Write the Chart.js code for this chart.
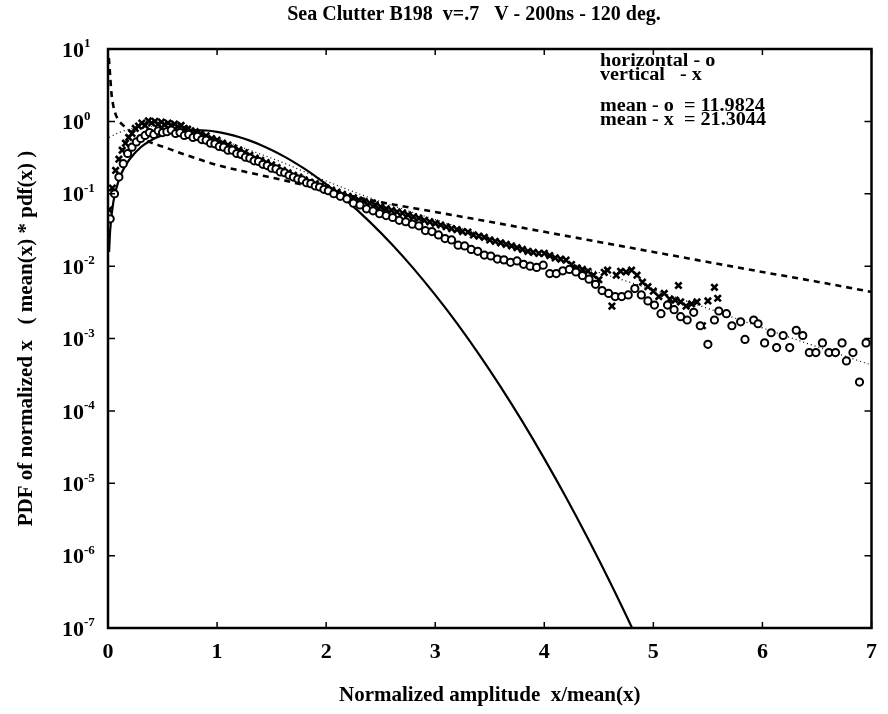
<!DOCTYPE html>
<html>
<head>
<meta charset="utf-8">
<script src="https://cdn.jsdelivr.net/npm/chart.js@4.4.1/dist/chart.umd.min.js"></script>
<style>
  html, body { margin: 0; padding: 0; background: #fff; }
  #wrap { width: 888px; height: 714px; position: relative; }
</style>
</head>
<body>
<div id="wrap"><canvas id="chart"></canvas></div>
<script>
// horizontal polarisation, "o" markers
const hX = [
  0.02,0.06,0.10,0.14,0.18,0.22,0.26,0.30,0.34,0.38,
  0.42,0.46,0.50,0.54,0.58,0.62,0.66,0.70,0.74,0.78,
  0.82,0.86,0.90,0.94,0.98,1.02,1.06,1.10,1.14,1.18,
  1.22,1.26,1.30,1.34,1.38,1.42,1.46,1.50,1.54,1.58,
  1.62,1.66,1.70,1.74,1.78,1.82,1.86,1.90,1.94,1.98,
  2.02,2.07,2.13,2.19,2.25,2.31,2.37,2.43,2.49,2.55,
  2.61,2.67,2.73,2.79,2.85,2.91,2.97,3.03,3.09,3.15,
  3.21,3.27,3.33,3.39,3.45,3.51,3.57,3.63,3.69,3.75,
  3.81,3.87,3.93,3.99,4.05,4.11,4.17,4.23,4.29,4.35,
  4.41,4.47,4.53,4.59,4.65,4.71,4.77,4.83,4.89,4.95,
  5.01,5.07,5.13,5.19,5.25,5.31,5.37,5.43,5.50,5.56,
  5.60,5.67,5.72,5.80,5.84,5.92,5.96,6.02,6.08,6.13,
  6.19,6.25,6.31,6.37,6.43,6.49,6.55,6.61,6.67,6.73,
  6.77,6.83,6.89,6.95
];
const hY = [
  0.045,0.10,0.17,0.26,0.36,0.44,0.52,0.58,0.64,0.70,
  0.66,0.74,0.70,0.72,0.76,0.68,0.70,0.64,0.66,0.60,
  0.62,0.56,0.55,0.50,0.49,0.45,0.44,0.40,0.40,0.36,
  0.35,0.32,0.31,0.285,0.28,0.255,0.245,0.225,0.22,0.20,
  0.195,0.18,0.17,0.16,0.155,0.142,0.138,0.128,0.124,0.115,
  0.110,0.100,0.092,0.085,0.074,0.070,0.062,0.058,0.053,0.050,
  0.047,0.043,0.041,0.038,0.036,0.031,0.030,0.027,0.024,0.023,
  0.0195,0.019,0.017,0.016,0.0142,0.0138,0.0125,0.0122,0.0113,0.0118,
  0.0106,0.0100,0.0096,0.0103,0.0079,0.0079,0.0086,0.0090,0.0083,0.0074,
  0.0066,0.0056,0.0046,0.0042,0.0038,0.0038,0.0040,0.0049,0.0040,0.0033,
  0.0029,0.0022,0.0029,0.0025,0.0020,0.0018,0.0023,0.0015,0.00083,0.0018,
  0.0024,0.0022,0.0015,0.0017,0.00097,0.0018,0.0016,0.00087,0.0012,0.00075,
  0.0011,0.00075,0.0013,0.0011,0.00064,0.00064,0.00087,0.00064,0.00064,0.00087,
  0.00049,0.00064,0.00025,0.00087
];

// vertical polarisation, "x" markers
const vX = [
  0.01,0.04,0.07,0.10,0.13,0.16,0.19,0.22,0.25,0.28,
  0.31,0.34,0.37,0.40,0.43,0.46,0.49,0.52,0.55,0.58,
  0.61,0.64,0.67,0.70,0.73,0.76,0.80,0.85,0.90,0.95,
  1.00,1.05,1.10,1.15,1.20,1.25,1.30,1.35,1.40,1.45,
  1.50,1.55,1.60,1.65,1.70,1.75,1.80,1.85,1.90,1.95,
  2.00,2.05,2.10,2.15,2.20,2.25,2.30,2.35,2.40,2.45,
  2.50,2.55,2.60,2.65,2.70,2.75,2.80,2.85,2.90,2.95,
  3.00,3.05,3.10,3.15,3.20,3.25,3.30,3.35,3.40,3.45,
  3.50,3.55,3.60,3.65,3.70,3.75,3.80,3.85,3.90,3.95,
  4.00,4.05,4.10,4.15,4.20,4.25,4.30,4.35,4.40,4.45,
  4.50,4.55,4.58,4.62,4.66,4.70,4.75,4.80,4.85,4.90,
  4.95,5.00,5.05,5.10,5.15,5.20,5.23,5.25,5.30,5.35,
  5.40,5.45,5.50,5.56,5.59
];
const vY = [
  0.06,0.12,0.21,0.30,0.40,0.50,0.60,0.68,0.80,0.86,
  0.95,0.88,1.02,0.95,1.00,0.92,0.98,0.90,0.95,0.88,
  0.92,0.85,0.88,0.80,0.78,0.74,0.72,0.68,0.63,0.58,
  0.55,0.50,0.47,0.43,0.40,0.37,0.34,0.31,0.29,0.27,
  0.25,0.23,0.21,0.195,0.18,0.17,0.155,0.145,0.138,0.128,
  0.12,0.112,0.105,0.098,0.092,0.088,0.082,0.078,0.074,0.070,
  0.066,0.062,0.059,0.056,0.054,0.051,0.048,0.046,0.043,0.041,
  0.039,0.037,0.035,0.033,0.032,0.030,0.0295,0.027,0.026,0.025,
  0.023,0.022,0.021,0.020,0.019,0.018,0.017,0.016,0.0155,0.015,
  0.015,0.014,0.013,0.0125,0.0121,0.0105,0.0095,0.009,0.0085,0.0075,
  0.0065,0.0082,0.0088,0.0028,0.0075,0.0085,0.0083,0.0088,0.0075,0.006,
  0.0052,0.0045,0.0038,0.0042,0.0035,0.0034,0.0054,0.0032,0.0028,0.003,
  0.0032,0.0015,0.0033,0.0051,0.0036
];

// solid curve
const sX = [0.01,0.02,0.05,0.1,0.15,0.2,0.3,0.4,0.5,0.6,0.7,0.8,0.9,1.0,1.1,1.2,1.3,1.4,1.5,1.6,
  1.7,1.8,1.9,2.0,2.2,2.4,2.6,2.8,3.0,3.2,3.4,3.6,3.8,4.0,4.2,4.4,4.6,4.8,4.85];
const sY = [0.0157,0.0314,0.0784,0.156,0.231,0.302,0.439,0.554,0.645,0.710,0.748,0.760,0.748,0.716,0.668,0.608,0.542,0.472,0.402,0.336,
  0.276,0.222,0.175,0.136,0.0772,0.0409,0.0202,0.0093,0.0040,0.00162,0.00061,0.000215,0.000071,0.0000219,0.00000635,0.00000172,0.000000438,0.000000104,0.000000072];

// dashed curve
const kX = [0.008,0.02,0.03,0.05,0.07,0.1,0.14,0.18,0.25,0.32,0.38,0.5,0.7,1.0,1.3,1.6,2.0,2.4,3.0,3.5,4.0,4.5,5.0,5.5,6.0,6.5,7.0];
const kY = [7.5,4.2,2.6,1.6,1.25,1.02,0.88,0.78,0.66,0.58,0.52,0.45,0.35,0.25,0.195,0.155,0.112,0.082,0.056,0.041,0.0298,0.0216,0.0157,0.0114,0.0083,0.0061,0.0044];

// dotted curve
const fX = [0.01,0.1,0.23,0.4,0.55,0.7,0.85,1.0,1.3,1.6,2.0,2.4,2.8,3.2,3.6,4.0,4.5,5.0,5.5,6.0,6.5,7.0];
const fY = [0.6,0.7,0.8,0.85,0.84,0.78,0.68,0.58,0.40,0.27,0.15,0.088,0.055,0.035,0.022,0.014,0.0082,0.0047,0.0026,0.0014,0.00077,0.00043];

const xTicks = [0, 1, 2, 3, 4, 5, 6, 7];
const yExps = [1, 0, -1, -2, -3, -4, -5, -6, -7];

const titleText = 'Sea Clutter B198  v=.7   V - 200ns - 120 deg.';
const noteLines = ['horizontal - o', 'vertical   - x', 'mean - o  = 11.9824', 'mean - x  = 21.3044'];
const noteBase = [66, 80, 111, 125];

const pts = (xs, ys) => xs.map((x, i) => ({x: x, y: ys[i]}));
const serif = '"Liberation Serif", "DejaVu Serif", serif';

const frame = {
  id: 'frame',
  afterDraw(chart) {
    const {ctx, chartArea: a, scales: {x, y}} = chart;
    ctx.save();
    ctx.strokeStyle = '#000';
    ctx.fillStyle = '#000';
    ctx.lineWidth = 2.5;
    ctx.strokeRect(a.left, a.top, a.right - a.left, a.bottom - a.top);

    // inward ticks
    ctx.lineWidth = 1.5;
    ctx.beginPath();
    for (const e of yExps) {
      const py = y.getPixelForValue(Math.pow(10, e));
      ctx.moveTo(a.left, py); ctx.lineTo(a.left + 7, py);
      ctx.moveTo(a.right, py); ctx.lineTo(a.right - 7, py);
    }
    for (const t of xTicks) {
      const px = x.getPixelForValue(t);
      ctx.moveTo(px, a.bottom); ctx.lineTo(px, a.bottom - 6);
      ctx.moveTo(px, a.top); ctx.lineTo(px, a.top + 6);
    }
    ctx.stroke();

    // y tick labels 10^n
    ctx.textBaseline = 'middle';
    ctx.textAlign = 'left';
    for (const e of yExps) {
      const py = y.getPixelForValue(Math.pow(10, e));
      ctx.font = 'bold 22px ' + serif;
      ctx.fillText('10', 62, py + 2);
      const w = ctx.measureText('10').width;
      ctx.font = 'bold 13px ' + serif;
      ctx.fillText(String(e), 62 + w, py - 5);
    }

    // title
    ctx.font = 'bold 20px ' + serif;
    ctx.textAlign = 'center';
    ctx.textBaseline = 'alphabetic';
    ctx.fillText(titleText, 474, 20);

    // note block, set a little wider like the original typeface
    ctx.textAlign = 'left';
    ctx.font = 'bold 18px ' + serif;
    noteLines.forEach((s, i) => {
      ctx.save();
      ctx.translate(600, noteBase[i]);
      ctx.scale(1.12, 1);
      ctx.fillText(s, 0, 0);
      ctx.restore();
    });
    ctx.restore();
  }
};

new Chart(document.getElementById('chart'), {
  type: 'scatter',
  data: {
    datasets: [
      {
        label: 'horizontal',
        data: pts(hX, hY),
        pointStyle: 'circle',
        pointRadius: 3.6,
        pointBorderWidth: 2,
        pointBorderColor: '#000',
        pointBackgroundColor: '#fff',
        showLine: false,
      },
      {
        label: 'vertical',
        data: pts(vX, vY),
        pointStyle: 'crossRot',
        pointRadius: 4.5,
        pointBorderWidth: 2.6,
        pointBorderColor: '#000',
        showLine: false,
      },
      {
        label: 'solid',
        data: pts(sX, sY),
        showLine: true,
        pointRadius: 0,
        borderColor: '#000',
        borderWidth: 2.2,
        cubicInterpolationMode: 'monotone',
      },
      {
        label: 'dashed',
        data: pts(kX, kY),
        showLine: true,
        pointRadius: 0,
        borderColor: '#000',
        borderWidth: 2.6,
        borderDash: [6, 5],
        cubicInterpolationMode: 'monotone',
      },
      {
        label: 'dotted',
        data: pts(fX, fY),
        showLine: true,
        pointRadius: 0,
        borderColor: '#000',
        borderWidth: 1.2,
        borderDash: [1, 3],
        cubicInterpolationMode: 'monotone',
      },
    ]
  },
  options: {
    responsive: true,
    maintainAspectRatio: false,
    animation: false,
    layout: { padding: { top: 49, right: 13, bottom: 2, left: 10 } },
    plugins: {
      legend: { display: false },
      tooltip: { enabled: false },
    },
    scales: {
      x: {
        type: 'linear',
        min: 0,
        max: 7,
        grid: { display: false, drawTicks: false },
        border: { display: false },
        ticks: {
          stepSize: 1,
          color: '#000',
          padding: 11,
          font: { family: serif, size: 22, weight: 'bold' },
        },
        title: {
          display: true,
          text: 'Normalized amplitude  x/mean(x)',
          color: '#000',
          font: { family: serif, size: 21, weight: 'bold' },
        },
        afterFit(scale) { scale.height = 84; },
      },
      y: {
        type: 'logarithmic',
        min: 1e-7,
        max: 10,
        grid: { display: false, drawTicks: false },
        border: { display: false },
        ticks: { display: false },
        afterBuildTicks(scale) {
          scale.ticks = yExps.map(e => ({ value: Math.pow(10, e) }));
        },
        title: {
          display: true,
          text: 'PDF of normalized x   ( mean(x) * pdf(x) )',
          color: '#000',
          font: { family: serif, size: 21, weight: 'bold' },
        },
        afterFit(scale) { scale.width = 98; },
      },
    },
  },
  plugins: [frame],
});
</script>
</body>
</html>
